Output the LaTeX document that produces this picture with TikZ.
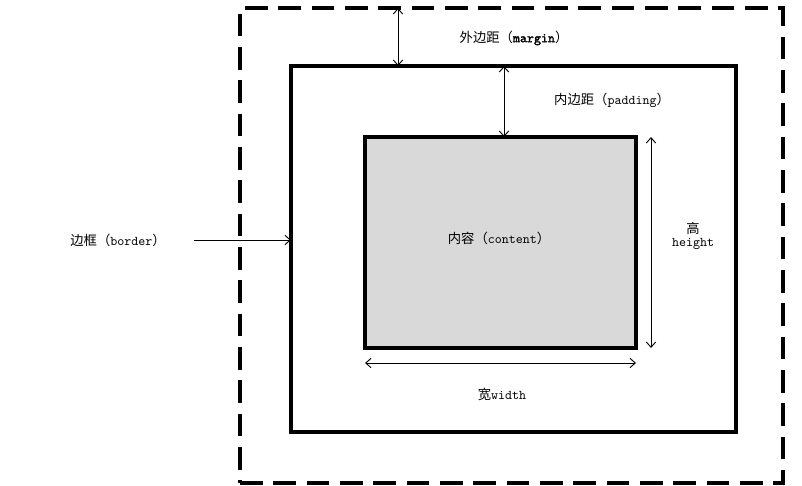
\documentclass[tikz,border=0pt]{standalone}
\usepackage{fontspec}
\usepackage{tikz}
\usetikzlibrary{arrows.meta,positioning,calc}
\newfontfamily\cjk{Noto Sans CJK SC}
\setmonofont{Latin Modern Mono}[AutoFakeBold=2]
\definecolor{contentC}{HTML}{D9D9D9}
\tikzset{
  boxe/.style={rectangle, draw=black, line width=2.4pt, inner sep=0pt, outer sep=0pt},
  lab/.style={inner sep=1pt, font=\cjk\fontsize{10}{12}\selectfont, align=center},
  dim/.style={{Straight Barb[length=4pt,width=7pt]}-{Straight Barb[length=4pt,width=7pt]}, line width=0.7pt},
  arr/.style={-{Straight Barb[length=4pt,width=7pt]}, line width=0.7pt},
}

\begin{document}
\begin{tikzpicture}[x=0.75pt, y=-0.75pt]
    \useasboundingbox (0,0) rectangle (802,485);
    % boxes
    \node[boxe, dash pattern=on 17pt off 8pt, minimum width=407.25pt, minimum height=356.25pt] (marge) at (511.5,245.5) {};
    \node[boxe, minimum width=333.75pt, minimum height=274.5pt] (bord) at (513.5,249) {};
    \node[boxe, fill=contentC, minimum width=203.25pt, minimum height=158.25pt] (cont) at (500.5,242.5) {};
    % labels
    \node[lab] (lmarge) at (514,38) {外边距（\textbf{\texttt{margin}}）};
    \node[lab] (lpad) at (612,100) {内边距（\texttt{padding}）};
    \node[lab] (lbord) at (118,240) {边框（\texttt{border}）};
    \node[lab] (lcont) at (499,238) {内容（\texttt{content}）};
    \node[lab] (lhaut) at (693,236) {高\\[-2pt]\texttt{height}};
    \node[lab] (llarg) at (502,394) {宽\texttt{width}};
    % dimension lines
    \coordinate (mx) at (398,0);
    \coordinate (px) at (504,0);
    \coordinate (hx) at (651,0);
    \coordinate (wy) at (0,363);
    \coordinate (btail) at (194,240);
    \draw[dim] (marge.north -| mx) -- (bord.north -| mx);
    \draw[dim] (bord.north -| px) -- (cont.north -| px);
    \draw[dim] (cont.north -| hx) -- (cont.south -| hx);
    \draw[dim] (cont.west |- wy) -- (cont.east |- wy);
    \draw[arr] (btail) -- (btail -| bord.west);
\end{tikzpicture}
\end{document}
